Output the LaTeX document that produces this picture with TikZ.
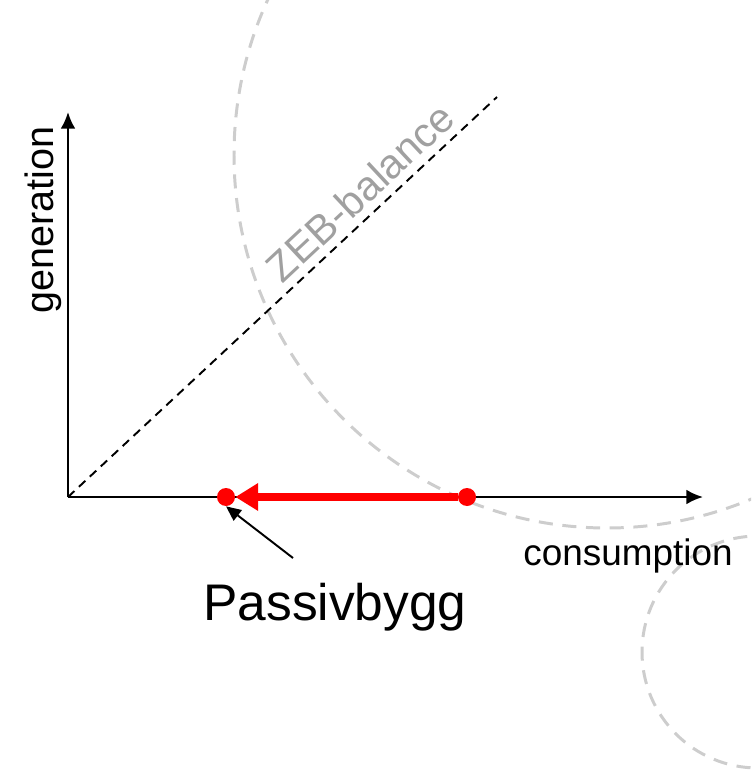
\documentclass[tikz,border=0pt]{standalone}
\usepackage{fontspec}
\setmainfont{Liberation Sans}
\usetikzlibrary{arrows.meta,calc}

\definecolor{ringgray}{RGB}{205,205,205}
\definecolor{zebgray}{RGB}{160,160,160}

\begin{document}
\begin{tikzpicture}[
  x=0.02cm,
  y=-0.02cm,
  >=Latex,
  axis/.style={draw=black,line width=1.4pt,-{Latex[length=9.5pt,width=8.5pt]}},
  ring/.style={draw=ringgray,line width=1.7pt,dash pattern=on 8pt off 5.5pt},
  balance/.style={draw=black,line width=1.1pt,dash pattern=on 5pt off 3.5pt},
  dot/.style={circle,fill=red,inner sep=0pt,minimum size=0.36cm},
  shiftarrow/.style={draw=red,line width=4.5pt,-{Triangle[length=13pt,width=15pt]}},
  pointer/.style={draw=black,line width=1.1pt,-{Triangle[length=8.5pt,width=7.5pt]}},
  axislabel/.style={inner sep=0pt,font=\fontsize{21}{25}\selectfont}
]

\clip (0,0) rectangle (751,773);

% Background rings
\draw[ring] (607,155) circle[radius=373];
\draw[ring] (758,652) circle[radius=116];

% Axes
\coordinate (O) at (68,497);
\coordinate (xend) at (703,497);
\coordinate (yend) at (68,112);
\coordinate (zebend) at (497,97);
\draw[axis] (O) -- (xend);
\draw[axis] (O) -- (yend);
\draw[balance] (O) -- (zebend);

\node[axislabel,rotate=90,anchor=base,font=\fontsize{22.5}{27}\selectfont] (gen) at (53,220) {generation};
\node[axislabel,anchor=base] (cons) at (628,565) {consumption};
\node[axislabel,text=zebgray,rotate=43,font=\fontsize{23.5}{28}\selectfont] (zeb) at (360,192) {ZEB-balance};

% Passive house shift
\node[dot] (low) at (226,497) {};
\node[dot] (high) at (467,497) {};
\draw[shiftarrow] (high.west) -- (low.east);

\node[inner sep=0pt,anchor=base,font=\fontsize{29.3}{35}\selectfont] (passiv) at (335,620) {Passivbygg};
\coordinate (ptr) at (293,558);
\draw[pointer] (ptr) -- (low.south);

\end{tikzpicture}
\end{document}
